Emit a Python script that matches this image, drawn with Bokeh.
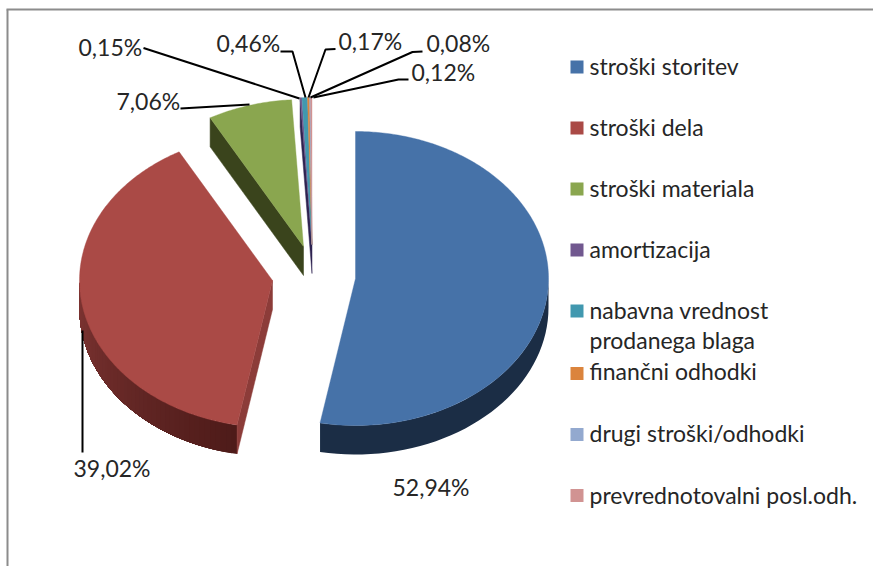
import math
from bokeh.plotting import figure
from bokeh.models import Range1d
from bokeh.core.properties import value
from bokeh.embed import file_html
from bokeh.resources import INLINE

# ---- data -----------------------------------------------------------------
categories = ["stroški storitev", "stroški dela", "stroški materiala", "amortizacija",
              "nabavna vrednost\nprodanega blaga", "finančni odhodki",
              "drugi stroški/odhodki", "prevrednotovalni posl.odh."]
shares = [52.94, 39.02, 7.06, 0.15, 0.46, 0.17, 0.08, 0.12]
share_labels = ["52,94%", "39,02%", "7,06%", "0,15%", "0,46%", "0,17%", "0,08%", "0,12%"]

# ---- style / layout -------------------------------------------------------
top_colors = ["#4672A8", "#AA4A46", "#8AA64F", "#71588F", "#4198AF", "#DB843D", "#93A9CF", "#D19392"]
cut_colors = ["#1B2D45", "#8C3C39", "#3A441C", "#2E2350", "#2E2350", "#2E2350", "#2E2350", "#2E2350"]
centers = [(355, 278), (272, 280), (303, 246), (311.5, 244), (311.5, 244), (311.5, 244), (311.5, 244), (311.5, 244)]
RX, RY, DEPTH = 193, 147, 29
FONT = value("Lato")
FONT_SIZE = "23px"
TXT = "#262626"

p = figure(width=873, height=566, output_backend="svg", toolbar_location=None,
           x_range=Range1d(0, 873), y_range=Range1d(566, 0), min_border=0)
p.axis.visible = False
p.grid.visible = False
p.outline_line_color = None


def rim(c, deg, dy=0.0):
    a = math.radians(deg)
    return c[0] + RX * math.sin(a), c[1] - RY * math.cos(a) + dy


def mix(c1, c2, t):
    a = [int(c1[i:i + 2], 16) for i in (1, 3, 5)]
    b = [int(c2[i:i + 2], 16) for i in (1, 3, 5)]
    return "#%02x%02x%02x" % tuple(round(x + (y - x) * t) for x, y in zip(a, b))


# slice angles from the values
starts, ends = [], []
acc = 0.0
for v in shares:
    starts.append(acc * 3.6)
    acc += v
    ends.append(acc * 3.6)


def wall(i, a0, a1, col0, col1, n=48):
    """Outer wall: strips painted over one another so that no seams show."""
    c = centers[i]
    for k in range(n):
        d0 = a0 + (a1 - a0) * k / n
        pts = [rim(c, d0 + (a1 - d0) * j / 40) for j in range(41)]
        xs = [q[0] for q in pts] + [q[0] for q in reversed(pts)]
        ys = [q[1] for q in pts] + [q[1] + DEPTH for q in reversed(pts)]
        p.patch(xs, ys, fill_color=mix(col0, col1, k / max(n - 1, 1)), line_color=None)


def cut(i, deg):
    c = centers[i]
    x, y = rim(c, deg)
    p.patch([c[0], x, x, c[0]], [c[1], y, y + DEPTH, c[1] + DEPTH],
            fill_color=cut_colors[i], line_color=cut_colors[i], line_width=0.5)


def top(i):
    c = centers[i]
    n = max(4, int((ends[i] - starts[i]) * 1.5))
    pts = [rim(c, starts[i] + (ends[i] - starts[i]) * k / n) for k in range(n + 1)]
    xs = [c[0]] + [q[0] for q in pts]
    ys = [c[1]] + [q[1] for q in pts]
    p.patch(xs, ys, fill_color=top_colors[i], line_color=top_colors[i], line_width=0.4)


# chart frame
p.line([7, 7], [566, 9], line_color="#8C8C8C", line_width=2)
p.line([6, 873], [9, 9], line_color="#8C8C8C", line_width=2)

# red
wall(1, starts[1], 270, "#4E1B19", "#7E3533")
cut(1, starts[1])
top(1)
# green
cut(2, starts[2])
top(2)
# small slices
cut(3, starts[3])
for i in range(3, 8):
    top(i)
# blue
wall(0, 90, ends[0], "#1B2D45", "#1B2D45", n=1)
top(0)

# leader lines (layout only)
leaders = [
    ([143, 299], [47.5, 98]),
    ([280, 292, 305], [51, 51, 97]),
    ([335, 325, 308], [48.5, 49, 97]),
    ([422, 412, 310], [51, 51.5, 97]),
    ([408, 398, 313], [79, 79, 97]),
    ([180, 249], [108, 104]),
    ([82, 82], [330, 452]),
]
for xs, ys in leaders:
    p.line(xs, ys, line_color="#000000", line_width=2)

# percent labels
label_pos = [(392, 486), (73, 467), (116, 100), (78, 46), (216, 42), (338, 40), (426, 42), (411, 71)]
p.text([q[0] for q in label_pos], [q[1] for q in label_pos], text=share_labels,
       text_font=FONT, text_font_size=FONT_SIZE, text_color=TXT,
       text_baseline="alphabetic", text_align="left")

# legend
row_y = [66.5, 127.5, 188.5, 249.5, 310.5, 373, 434, 495]
row_base = [65, 126, 187, 248, 309, 370, 432, 494]
p.quad(left=[570] * 8, right=[583] * 8, top=[y - 6.5 for y in row_y], bottom=[y + 6.5 for y in row_y],
       fill_color=top_colors, line_color=None)
for label, b in zip(categories, row_base):
    for j, part in enumerate(label.split("\n")):
        p.text([589], [b + 30 * j], text=[part], text_font=FONT, text_font_size=FONT_SIZE,
               text_color=TXT, text_baseline="alphabetic", text_align="left")

open("out.html", "w").write(file_html(p, INLINE))
